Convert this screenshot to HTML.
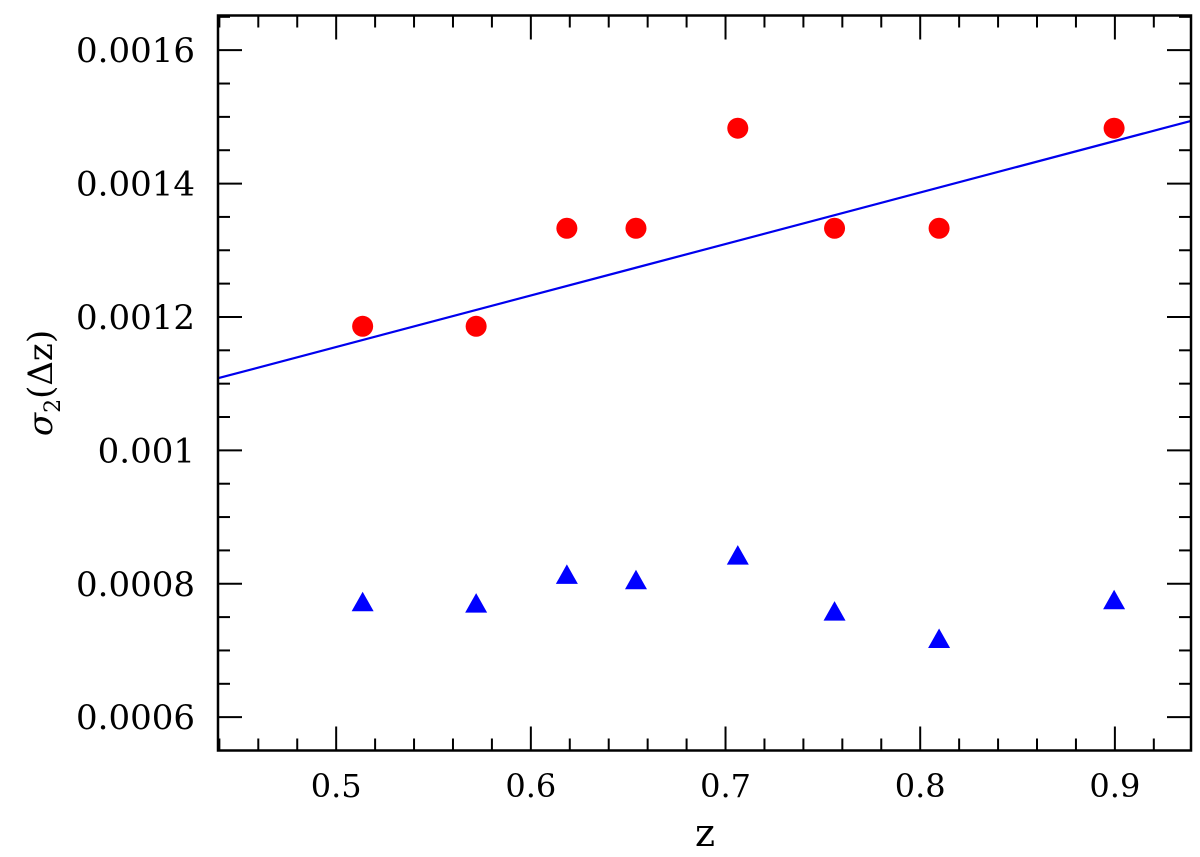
<!DOCTYPE html>
<html><head><meta charset="utf-8"><style>
html,body{margin:0;padding:0;background:#fff;}
svg{display:block;font-family:"DejaVu Serif","Liberation Serif",serif;}
</style></head><body>
<svg id="chart" width="1200" height="857" viewBox="0 0 1200 857">
<g id="ticks"></g>
<g id="labels"></g>
<g id="marks"></g>
<rect x="218" y="15.5" width="973" height="735" fill="none" stroke="#000" stroke-width="2.5"/>
<text x="705" y="846" font-size="38" text-anchor="middle">z</text>
<text transform="translate(52,383) rotate(-90)" font-size="34" text-anchor="middle"><tspan font-style="italic">σ</tspan><tspan font-size="22" dy="8">2</tspan><tspan dy="-8">(Δz)</tspan></text>
</svg>
<script>
const zValues = [0.5136, 0.5719, 0.6185, 0.654, 0.7063, 0.756, 0.8097, 0.8996];
const circleValues = [0.001186, 0.001186, 0.001333, 0.001333, 0.001483, 0.001333, 0.001333, 0.001483];
const triangleValues = [0.000773, 0.000771, 0.000814, 0.000806, 0.000843, 0.000759, 0.000718, 0.000776];
const fitSlope = 0.000772;
const fitIntercept = 0.000769;
const xTickLabels = ["0.5", "0.6", "0.7", "0.8", "0.9"];
const yTickLabels = ["0.0006", "0.0008", "0.001", "0.0012", "0.0014", "0.0016"];

const X0 = 218, X1 = 1191, Y0 = 750.5, Y1 = 15.5;
const xMin = 0.4393, xMax = 0.9391, yMin = 0.00055, yMax = 0.001652;
function xs(v){ return X0 + (v - xMin) / (xMax - xMin) * (X1 - X0); }
function ys(v){ return Y0 - (v - yMin) / (yMax - yMin) * (Y0 - Y1); }
const NS = "http://www.w3.org/2000/svg";
function mk(tag, attrs, parent){ const e = document.createElementNS(NS, tag); for (const k in attrs) e.setAttribute(k, attrs[k]); parent.appendChild(e); return e; }
const ticks = document.getElementById('ticks');
const labels = document.getElementById('labels');
const marks = document.getElementById('marks');

for (let i = 22; i <= 47; i++) {
  const v = i * 0.02; const x = xs(v);
  if (x < X0 + 1 || x > X1 - 1) continue;
  const major = (i % 5 === 0); const len = major ? 24 : 12;
  const t1 = mk('line', {x1:x, x2:x, y1:Y0, y2:Y0-len, stroke:'#000', 'stroke-width':2}, ticks);
  
  
  const t2 = mk('line', {x1:x, x2:x, y1:Y1, y2:Y1+len, stroke:'#000', 'stroke-width':2}, ticks);
  
  
}
xTickLabels.forEach(s => {
  const t = mk('text', {x: xs(parseFloat(s)), y: 797, 'font-size': 32, 'text-anchor': 'middle'}, labels);
  t.textContent = s;
  
  
});
for (let i = 11; i <= 33; i++) {
  const v = i * 0.00005; const y = ys(v);
  if (y > Y0 - 1 || y < Y1 + 1) continue;
  const major = (i % 4 === 0); const len = major ? 24 : 12;
  const t1 = mk('line', {x1:X0, x2:X0+len, y1:y, y2:y, stroke:'#000', 'stroke-width':2}, ticks);
  
  
  const t2 = mk('line', {x1:X1, x2:X1-len, y1:y, y2:y, stroke:'#000', 'stroke-width':2}, ticks);
  
  
}
yTickLabels.forEach(s => {
  const t = mk('text', {x: 195, y: ys(parseFloat(s)) + 12, 'font-size': 34, 'text-anchor': 'end'}, labels);
  t.textContent = s;
  
  
});
const fl = mk('line', {x1: xs(xMin), y1: ys(fitIntercept + fitSlope*xMin), x2: xs(xMax), y2: ys(fitIntercept + fitSlope*xMax), stroke:'#0000ee', 'stroke-width':2.2}, marks);


zValues.forEach((z, i) => {
  const c = mk('circle', {cx: xs(z), cy: ys(circleValues[i]), r: 10.5, fill:'#ff0000'}, marks);
  
  
});
zValues.forEach((z, i) => {
  const x = xs(z), y = ys(triangleValues[i]);
  const p = mk('polygon', {points: `${x},${y-10} ${x-11},${y+9.5} ${x+11},${y+9.5}`, fill:'#0000ff'}, marks);
  
  
});
</script>
</body></html>
